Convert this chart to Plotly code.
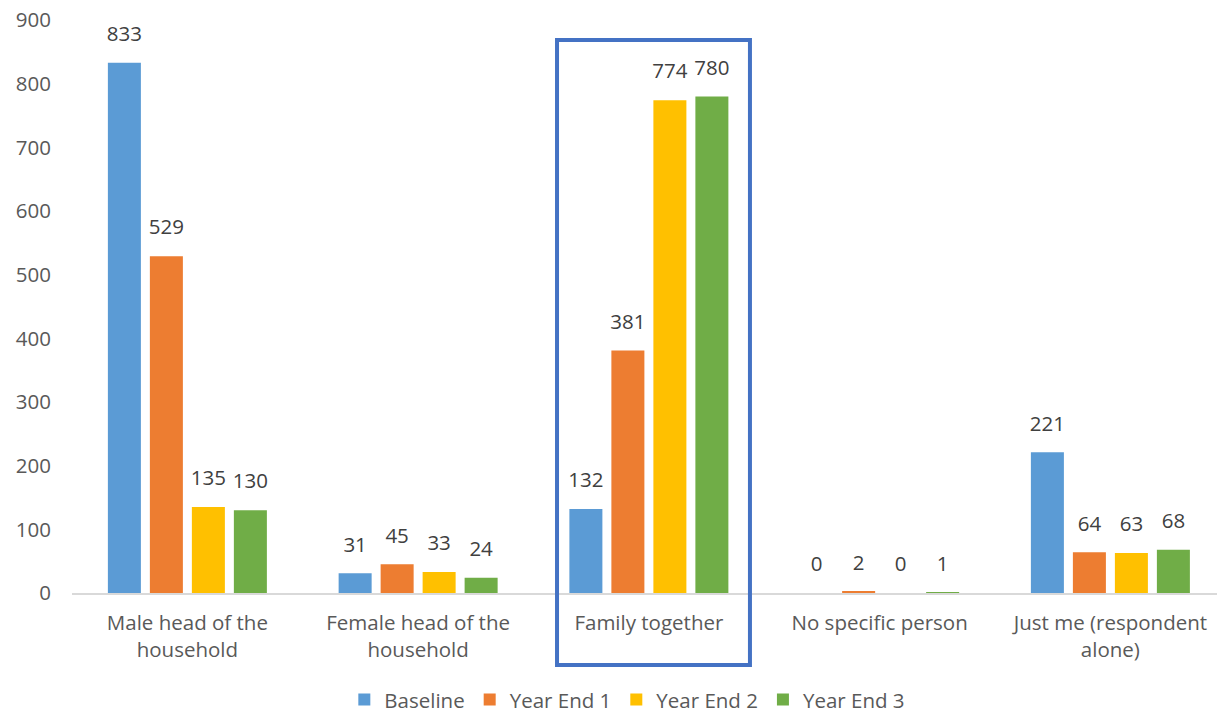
import plotly.graph_objects as go

categories = ["Male head of the<br>household", "Female head of the<br>household", "Family together",
              "No specific person", "Just me (respondent<br>alone)"]
series_names = ["Baseline", "Year End 1", "Year End 2", "Year End 3"]
baseline = [833, 31, 132, 0, 221]
year_end_1 = [529, 45, 381, 2, 64]
year_end_2 = [135, 33, 774, 0, 63]
year_end_3 = [130, 24, 780, 1, 68]
colors = ["#5B9BD5", "#ED7D31", "#FFC000", "#70AD47"]
y_ticks = [0, 100, 200, 300, 400, 500, 600, 700, 800, 900]

FONT = "Open Sans, DejaVu Sans, sans-serif"
FS = 20.5

fig = go.Figure()
all_vals = [baseline, year_end_1, year_end_2, year_end_3]
for name, vals, col in zip(series_names, all_vals, colors):
    fig.add_trace(go.Bar(
        x=categories, y=vals, name=name, marker_color=col, marker_line_width=0,
        hoverinfo="x+y+name",
    ))
# data labels, aligned with bars via scatter grouping
for name, vals, col in zip(series_names, all_vals, colors):
    fig.add_trace(go.Scatter(
        x=categories, y=vals, mode="markers+text", text=[str(v) for v in vals],
        textposition="top center", showlegend=False, hoverinfo="skip",
        marker=dict(size=25, color="rgba(0,0,0,0)"), cliponaxis=False,
        textfont=dict(family=FONT, size=FS, color="#404040"),
    ))

fig.add_shape(type="rect", xref="paper", yref="paper", x0=0.4236, x1=0.5921, y0=-0.1257, y1=0.965,
              line=dict(color="#4472C4", width=4), fillcolor="rgba(0,0,0,0)", layer="above")

fig.update_layout(
    width=1217, height=717,
    margin=dict(l=72, r=0, t=20, b=124),
    plot_bgcolor="white", paper_bgcolor="white",
    barmode="group", bargap=0.272, bargroupgap=0.214,
    scattermode="group", scattergap=0.272,
    font=dict(family=FONT, size=FS, color="#595959"),
    showlegend=True,
    legend=dict(orientation="h", x=0.485, xanchor="center", yref="container", y=0.024, yanchor="middle",
                font=dict(family=FONT, size=FS, color="#595959"), itemwidth=30,
                traceorder="normal"),
)
fig.update_yaxes(range=[0, 900], tickvals=y_ticks, showgrid=False, zeroline=False,
                 showline=False, tickfont=dict(family=FONT, size=FS, color="#595959"), ticks="",
                 ticklabelstandoff=20)
fig.update_xaxes(range=[-0.5, 4.462], showline=True, linecolor="#D9D9D9", linewidth=1.5, showgrid=False,
                 tickfont=dict(family=FONT, size=FS, color="#595959"), ticks="",
                 ticklabelstandoff=11)

fig.write_html("out.html")
